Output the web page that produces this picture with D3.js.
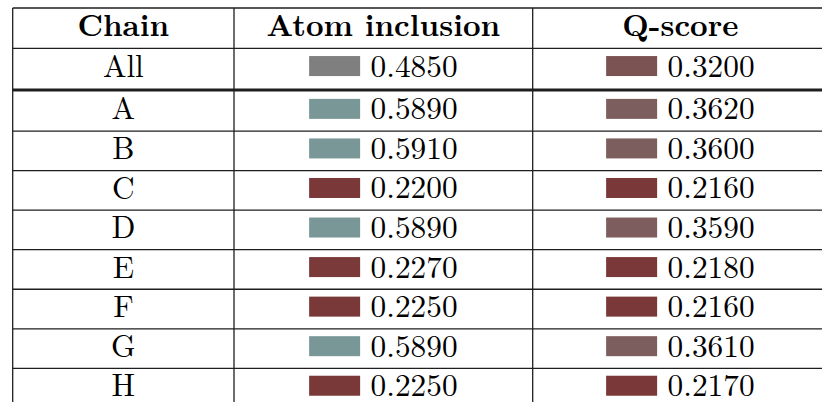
<!DOCTYPE html>
<html><head><meta charset="utf-8">
<script src="https://cdn.jsdelivr.net/npm/d3@7"></script>
<style>html,body{margin:0;padding:0;background:#fff;}svg{display:block;}</style>
</head><body>
<svg id="chart" width="822" height="402"></svg>
<script>
const headers = ["Chain", "Atom inclusion", "Q-score"];
const summaryLabel = "All";
const summaryAtom = 0.4850;
const summaryQ = 0.3200;
const chains = ["A", "B", "C", "D", "E", "F", "G", "H"];
const atomInclusion = [0.5890, 0.5910, 0.2200, 0.5890, 0.2270, 0.2250, 0.5890, 0.2250];
const qScore = [0.3620, 0.3600, 0.2160, 0.3590, 0.2180, 0.2160, 0.3610, 0.2170];

(function () {
const svg = d3.select("#chart");
const font = '"Latin Modern Roman", "CMU Serif", "Liberation Serif", serif';
const lineColor = "#1e1e1e";

const colEdges = [12.7, 234, 532.7, 828];
const colCenter = i => (colEdges[i] + colEdges[i + 1]) / 2;

const tableTop = 8, headerBottom = 48.4, allBottom = 88.5, thick = 3;
const bodyTop = allBottom + thick;
const rowStep = 39.55;
const yBody = d3.scaleBand().domain(chains).range([bodyTop, bodyTop + rowStep * chains.length]).padding(0);

const color = d3.scaleLinear()
  .domain([0.22, 0.485, 0.59])
  .range(["#7a3838", "#7f7f7f", "#7a9797"])
  .interpolate(d3.interpolateRgb)
  .clamp(true);

const swW = 51, swH = 20, gap = 10.5, fontSize = 31.3;
const fmt = d3.format(".4f");

function cellValue(g, colIdx, rowTop, rowH, v) {
  const cy = rowTop + rowH / 2 - 2.4;
  const t = g.append("text")
    .attr("y", cy + 10.5)
    .style("font-family", font).style("font-size", fontSize + "px").attr("fill", "#000")
    .text(fmt(v));
  const tw = t.node().getComputedTextLength();
  const total = swW + gap + tw;
  const x0 = colCenter(colIdx) - total / 2;
  g.append("rect").attr("x", x0).attr("y", cy - swH / 2).attr("width", swW).attr("height", swH)
    .attr("fill", color(v));
  t.attr("x", x0 + swW + gap);
}

function cellLabel(g, colIdx, rowTop, rowH, s, bold) {
  g.append("text")
    .attr("x", colCenter(colIdx)).attr("y", rowTop + rowH / 2 + 8.2)
    .attr("text-anchor", "middle")
    .style("font-family", font).style("font-size", (bold ? 30.7 : fontSize) + "px")
    .style("font-weight", bold ? "bold" : "normal").attr("fill", "#000")
    .text(s);
}

const g = svg.append("g");
headers.forEach((h, i) => cellLabel(g, i, tableTop, headerBottom - tableTop, h, true));
cellLabel(g, 0, headerBottom, allBottom - headerBottom, summaryLabel, false);
cellValue(g, 1, headerBottom, allBottom - headerBottom, summaryAtom);
cellValue(g, 2, headerBottom, allBottom - headerBottom, summaryQ);
chains.forEach((c, i) => {
  const y0 = yBody(c), h = yBody.bandwidth();
  cellLabel(g, 0, y0, h, c, false);
  cellValue(g, 1, y0, h, atomInclusion[i]);
  cellValue(g, 2, y0, h, qScore[i]);
});

const lines = svg.append("g").attr("stroke", lineColor).attr("fill", "none");
const hLines = [tableTop, headerBottom].concat(chains.map(c => yBody(c) + yBody.bandwidth()));
hLines.forEach(y => lines.append("line").attr("x1", colEdges[0]).attr("x2", colEdges[3])
  .attr("y1", y).attr("y2", y).attr("stroke-width", 1.3));
lines.append("line").attr("x1", colEdges[0]).attr("x2", colEdges[3])
  .attr("y1", allBottom + thick / 2).attr("y2", allBottom + thick / 2).attr("stroke-width", thick);
colEdges.forEach(x => lines.append("line").attr("x1", x).attr("x2", x)
  .attr("y1", tableTop).attr("y2", 420).attr("stroke-width", 1.3));
})();
</script>
</body></html>
